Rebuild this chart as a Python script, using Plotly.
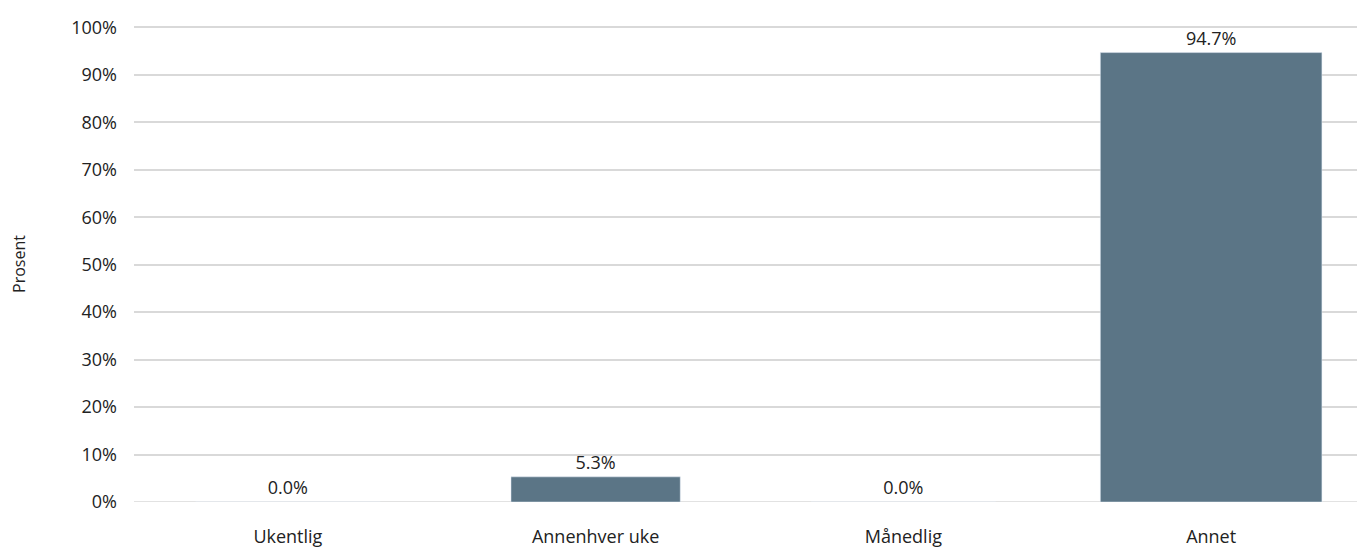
import plotly.graph_objects as go

categories = ["Ukentlig", "Annenhver uke", "Månedlig", "Annet"]
values = [0.0, 5.3, 0.0, 94.7]
bar_widths = [0.6, 0.55, 0.6, 0.72]
y_ticks = list(range(0, 101, 10))
y_tick_labels = [f"{t}%" for t in y_ticks]

fig = go.Figure(go.Bar(
    x=categories, y=values, width=bar_widths,
    marker_color="#5B7586",
    text=[f"{v:.1f}%" for v in values],
    textposition="outside", cliponaxis=False,
    textfont=dict(size=18, color="#222222"),
))
fig.update_layout(
    width=1357, height=542,
    margin=dict(l=126, r=0, t=18, b=48),
    plot_bgcolor="white", paper_bgcolor="white",
    font=dict(family="Open Sans", size=18, color="#222222"),
    showlegend=False,
)
fig.update_yaxes(range=[0, 100.3], tickvals=y_ticks, ticktext=y_tick_labels,
                 showgrid=True, gridcolor="#D9D9D9", gridwidth=1.5,
                 zeroline=False, layer="below traces", automargin=False,
                 ticklabelstandoff=16,
                 title=dict(text="Prosent", font=dict(size=16), standoff=53))
fig.update_xaxes(showline=False, ticks="", tickfont=dict(size=18),
                 automargin=False, ticklabelstandoff=22)
fig.add_hline(y=0, line=dict(color="#D9D9D9", width=1.5), layer="below")
fig.write_html("out.html")
